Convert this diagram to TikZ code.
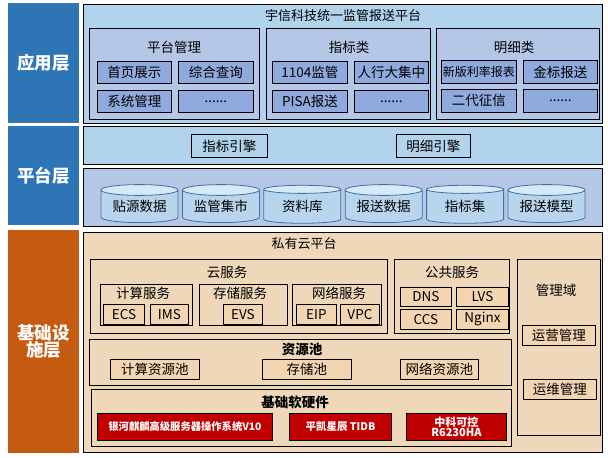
\documentclass[tikz,border=0pt]{standalone}
\usepackage{fontspec}
\setmainfont{Noto Sans CJK SC}
\usepackage{tikz}
\usetikzlibrary{positioning}
\usetikzlibrary{shapes.geometric}

\definecolor{lblblue}{HTML}{2E75B6}
\definecolor{lblorange}{HTML}{C55A11}
\definecolor{appbg}{HTML}{B2D3EC}
\definecolor{grpbg}{HTML}{B4C7E7}
\definecolor{itembg}{HTML}{8FAADC}
\definecolor{dbline}{HTML}{41719C}
\definecolor{dbbody}{HTML}{B8D5EE}
\definecolor{dbtop}{HTML}{D9E8F6}
\definecolor{infbg}{HTML}{EFD8BA}
\definecolor{infitem}{HTML}{F3D5B2}
\definecolor{hwred}{HTML}{C00000}

\newcommand{\fsz}[1]{\fontsize{#1}{#1}\selectfont}

\tikzset{
  layer/.style={fill=#1, text=white, font=\fsz{17.5}\bfseries, align=center,
    inner sep=0pt, anchor=north west},
  frame/.style={draw=black, line width=1.2pt, fill=#1, inner sep=0pt, anchor=north west},
  grp/.style={draw=black, line width=0.9pt, fill=#1, inner sep=0pt, anchor=north west},
  item/.style={draw=black, line width=0.9pt, fill=#1, inner sep=0pt, font=\fsz{13.5},
    anchor=north west},
  ttl/.style={inner sep=0pt, font=\fsz{13.5}},
  db/.style={cylinder, shape border rotate=90, aspect=0.2, draw=dbline, line width=0.8pt,
    cylinder uses custom fill, cylinder body fill=dbbody, cylinder end fill=dbtop,
    minimum width=77pt, minimum height=38pt, inner sep=0pt, font=\fsz{13.5}},
  hw/.style={draw=black, line width=0.9pt, fill=hwred, text=white, align=center,
    inner sep=0pt, anchor=north west, font=\fsz{10.5}\bfseries}
}

\begin{document}
\begin{tikzpicture}[x=1pt, y=-1pt]
  \useasboundingbox (0,0) rectangle (608,458);

  % layer labels
  \node[layer=lblblue, minimum width=71pt, minimum height=120pt] (lapp) at (8,3) {应用层};
  \node[layer=lblblue, minimum width=71pt, minimum height=99pt] (lplat) at (8,126) {平台层};
  \node[layer=lblorange, minimum width=71pt, minimum height=223pt] (linf) at (8,230) {基础设\\施层};

  % application layer
  \node[frame=appbg, minimum width=519pt, minimum height=119pt] (app) at (83,4) {};
  \node[ttl, font=\fsz{13}] (apptitle) at (343,16) {宇信科技统一监管报送平台};

  \node[grp=grpbg, minimum width=170pt, minimum height=91pt] (pm) at (89,28) {};
  \node[ttl] (pmt) at (174,47) {平台管理};
  \node[item=itembg, minimum width=74pt, minimum height=22pt] (sy) at (97,61) {首页展示};
  \node[item=itembg, minimum width=75pt, minimum height=22pt, right=6pt of sy.north east, anchor=north west] (zh) {综合查询};
  \node[item=itembg, minimum width=74pt, minimum height=22pt, below=6pt of sy.south west, anchor=north west] (xt) {系统管理};
  \node[item=itembg, minimum width=75pt, minimum height=22pt, right=6pt of xt.north east, anchor=north west] (pmx) {......};

  \node[grp=grpbg, minimum width=164pt, minimum height=91pt] (zb) at (266,28) {};
  \node[ttl] (zbt) at (349,47) {指标类};
  \node[item=itembg, minimum width=75pt, minimum height=22pt] (jg) at (272,61) {1104监管};
  \node[item=itembg, minimum width=74pt, minimum height=22pt, right=6pt of jg.north east, anchor=north west] (rh) {人行大集中};
  \node[item=itembg, minimum width=75pt, minimum height=22pt, below=6pt of jg.south west, anchor=north west] (pisa) {PISA报送};
  \node[item=itembg, minimum width=74pt, minimum height=22pt, right=6pt of pisa.north east, anchor=north west] (zbx) {......};

  \node[grp=grpbg, minimum width=163pt, minimum height=91pt] (mx) at (436,28) {};
  \node[ttl] (mxt) at (514,47) {明细类};
  \node[item=itembg, minimum width=75pt, minimum height=23pt, font=\fsz{12}] (ll) at (441,60) {新版利率报表};
  \node[item=itembg, minimum width=74pt, minimum height=23pt, right=6pt of ll.north east, anchor=north west] (jb) {金标报送};
  \node[item=itembg, minimum width=75pt, minimum height=23pt, below=5pt of ll.south west, anchor=north west] (zx) {二代征信};
  \node[item=itembg, minimum width=74pt, minimum height=23pt, right=6pt of zx.north east, anchor=north west] (mxx) {......};

  % platform layer
  \node[frame=appbg, minimum width=519pt, minimum height=38pt] (eng) at (83,126) {};
  \node[item=appbg, minimum width=76pt, minimum height=23pt] (zbyq) at (191,134) {指标引擎};
  \node[item=appbg, minimum width=74pt, minimum height=23pt] (mxyq) at (396,134) {明细引擎};

  \node[frame=grpbg, minimum width=519pt, minimum height=58pt] (store) at (83,168) {};
  \foreach \txt [count=\i from 0] in {贴源数据,监管集市,资料库,报送数据,指标集,报送模型}
    \node[db] (db\i) at (139.5+81.4*\i,206.5) {\txt};

  % infrastructure layer
  \node[frame=infbg, minimum width=519pt, minimum height=220pt] (inf) at (83,232) {};
  \node[ttl, font=\fsz{13}] (inft) at (304,244) {私有云平台};

  \node[grp=infbg, minimum width=297pt, minimum height=74pt] (cloud) at (90,259) {};
  \node[ttl] (cloudt) at (227,272) {云服务};
  \node[grp=infbg, minimum width=92pt, minimum height=41pt] (calc) at (100,284) {};
  \node[ttl] (calct) at (143,293) {计算服务};
  \node[item=infitem, minimum width=41pt, minimum height=20pt] (ecs) at (103,304) {ECS};
  \node[item=infitem, minimum width=38pt, minimum height=20pt] (ims) at (150,304) {IMS};
  \node[grp=infbg, minimum width=88pt, minimum height=41pt] (stor) at (199,284) {};
  \node[ttl] (stort) at (240,293) {存储服务};
  \node[item=infitem, minimum width=39pt, minimum height=20pt] (evs) at (223,304) {EVS};
  \node[grp=infbg, minimum width=89pt, minimum height=41pt] (net) at (292,284) {};
  \node[ttl] (nett) at (339,293) {网络服务};
  \node[item=infitem, minimum width=40pt, minimum height=20pt] (eip) at (296,304) {EIP};
  \node[item=infitem, minimum width=39pt, minimum height=20pt] (vpc) at (340,304) {VPC};

  \node[grp=infbg, minimum width=115pt, minimum height=74pt] (pub) at (394,259) {};
  \node[ttl] (pubt) at (452,272) {公共服务};
  \node[item=infitem, minimum width=51pt, minimum height=19pt] (dns) at (400,287) {DNS};
  \node[item=infitem, minimum width=52pt, minimum height=19pt] (lvs) at (456,287) {LVS};
  \node[item=infitem, minimum width=51pt, minimum height=20pt] (ccs) at (400,309) {CCS};
  \node[item=infitem, minimum width=52pt, minimum height=20pt] (ngx) at (456,309) {Nginx};

  \node[grp=infbg, minimum width=83pt, minimum height=176pt] (mgmt) at (517,259) {};
  \node[ttl] (mgmtt) at (556,290) {管理域};
  \node[item=infitem, minimum width=73pt, minimum height=20pt] (yy) at (522,325) {运营管理};
  \node[item=infitem, minimum width=73pt, minimum height=20pt] (yw) at (523,379) {运维管理};

  \node[grp=infbg, minimum width=422pt, minimum height=46pt] (pool) at (89,339) {};
  \node[ttl, font=\fsz{13.5}\bfseries] (poolt) at (302,349) {资源池};
  \node[item=infitem, minimum width=89pt, minimum height=20pt] (cpool) at (110,359) {计算资源池};
  \node[item=infitem, minimum width=89pt, minimum height=20pt] (spool) at (262,359) {存储池};
  \node[item=infitem, minimum width=78pt, minimum height=20pt] (npool) at (400,359) {网络资源池};

  \node[grp=infbg, minimum width=420pt, minimum height=57pt] (base) at (91,389) {};
  \node[ttl, font=\fsz{13.5}\bfseries] (baset) at (295,402) {基础软硬件};
  \node[hw, minimum width=175pt, minimum height=27pt, font=\fsz{10.3}\bfseries] (os) at (97,413) {银河麒麟高级服务器操作系统V10};
  \node[hw, minimum width=102pt, minimum height=27pt] (tidb) at (289,413) {平凯星辰 TIDB};
  \node[hw, minimum width=100pt, minimum height=27pt, font=\fsz{11}\bfseries] (srv) at (406,413) {中科可控\\[-1pt]R6230HA};
\end{tikzpicture}
\end{document}
